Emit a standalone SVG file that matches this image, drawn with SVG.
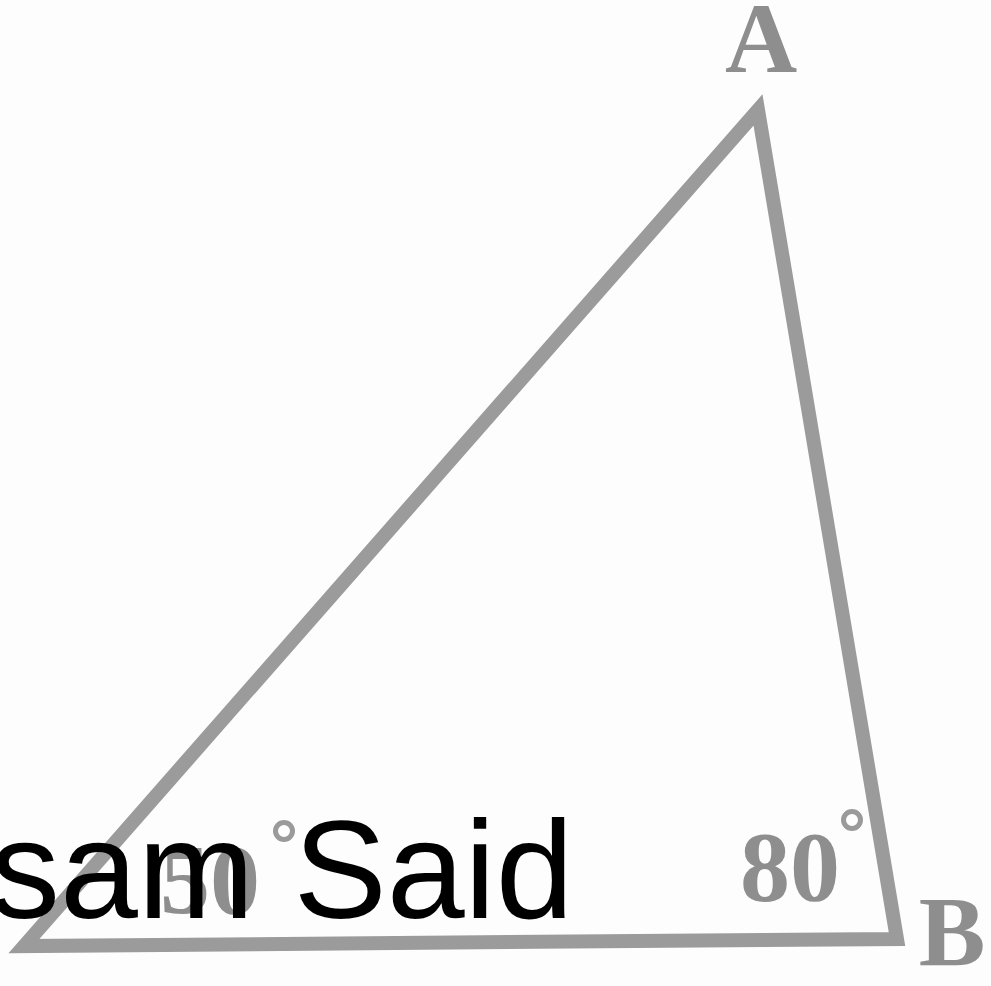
<svg xmlns="http://www.w3.org/2000/svg" width="991" height="986" viewBox="0 0 991 986">
  <style>
    .edge { fill: none; stroke: #9b9b9b; stroke-width: 14; stroke-linejoin: miter; stroke-linecap: round; }
    .lbl { font-family: "Liberation Serif", "Times New Roman", serif; font-weight: bold; fill: #8e8e8e; }
    .deg { fill: none; stroke: #9a9a9a; stroke-width: 5; }
    .wm { font-family: "Liberation Sans", Arial, sans-serif; fill: #000; }
  </style>
  <rect width="991" height="986" fill="#fdfdfd"/>
  <g id="connectors">
    <polygon class="edge" points="24,946 758,110 897,939"/>
  </g>
  <g id="vertexA">
    <text class="lbl" x="761" y="72" font-size="100" text-anchor="middle">A</text>
  </g>
  <g id="vertexB">
    <text class="lbl" x="952" y="965" font-size="100" text-anchor="middle">B</text>
  </g>
  <g id="angleB">
    <text class="lbl" x="740" y="900" font-size="100">80</text>
    <circle class="deg" cx="852" cy="820" r="8.5"/>
  </g>
  <g id="angleC">
    <text class="lbl" x="160" y="913" font-size="100">50</text>
    <circle class="deg" cx="284" cy="831" r="8.5"/>
  </g>
  <g id="watermark">
    <text class="wm" x="-10" y="918" font-size="140">sam Said</text>
  </g>
</svg>
